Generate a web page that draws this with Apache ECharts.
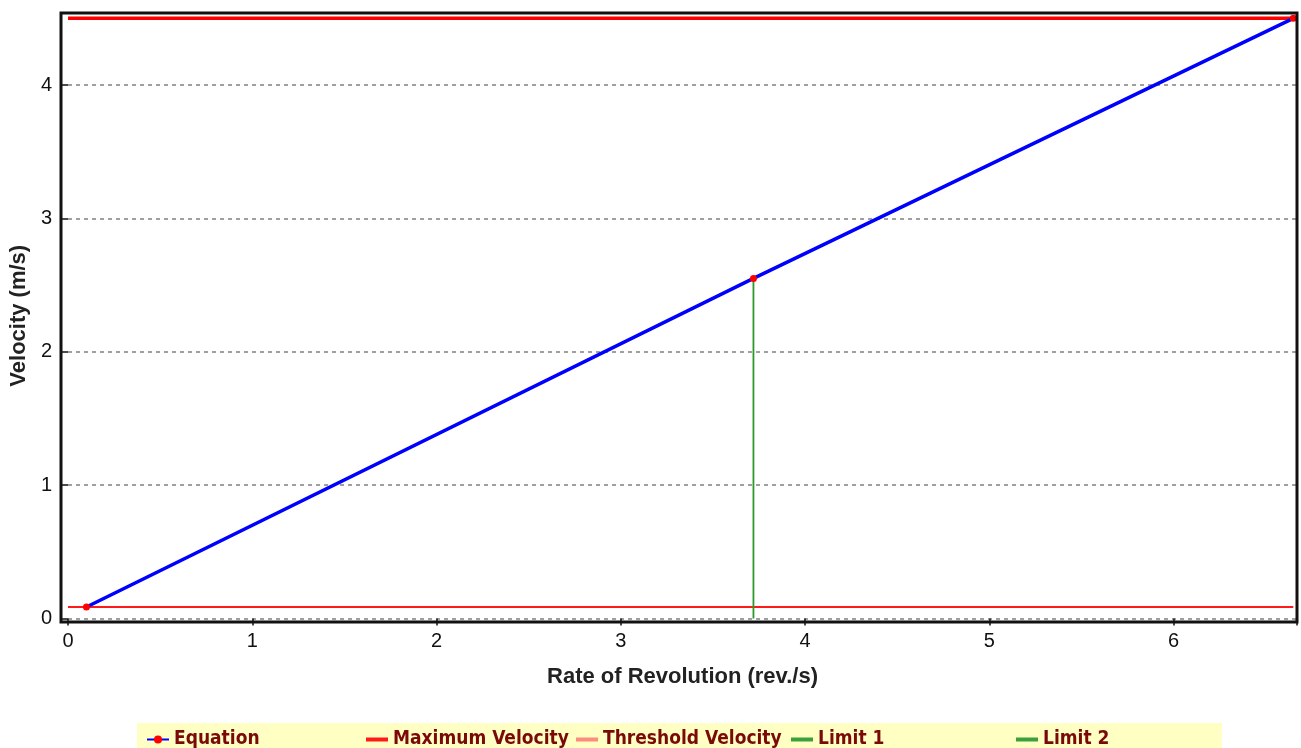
<!DOCTYPE html>
<html>
<head>
<meta charset="utf-8">
<script src="https://cdn.jsdelivr.net/npm/echarts@6/dist/echarts.min.js"></script>
<style>html,body{margin:0;padding:0;background:#fff;}#c{width:1301px;height:748px;}</style>
</head>
<body>
<div id="c"></div>
<script>
// Data
const equation = [[0.10, 0.086], [3.72, 2.55], [6.65, 4.50]];
const maxVelocity = [[0, 4.50], [6.65, 4.50]];
const thresholdVelocity = [[0, 0.086], [6.65, 0.086]];
const limit1 = [[3.72, 0], [3.72, 2.55]];
const limit2 = [[6.67, 0], [6.67, 4.50]];
const seriesNames = ['Equation', 'Maximum Velocity', 'Threshold Velocity', 'Limit 1', 'Limit 2'];
const xTicks = [0, 1, 2, 3, 4, 5, 6];
const yTicks = [0, 1, 2, 3, 4];

const chart = echarts.init(document.getElementById('c'), null, {renderer: 'canvas'});
const legendFont = {fontFamily: 'Liberation Sans Narrow, DejaVu Sans Condensed, Liberation Sans, sans-serif', fontWeight: 'bold', fontSize: 19, color: '#7a0a0a'};
const legendLefts = [141, 361, 571, 786, 1011];
const legendColors = ['#0000ff', '#ff1a1a', '#ff8a80', '#3aa03a', '#3aa03a'];

const legends = seriesNames.map((n, i) => ({
  left: legendLefts[i], top: 725, itemGap: 4,
  itemWidth: 22, itemHeight: i === 0 ? 10 : 4,
  data: [i === 0 ? n : {name: n, icon: 'rect', itemStyle: {color: legendColors[i]}}],
  textStyle: Object.assign({padding: [0, 0, 0, 0]}, legendFont), selectedMode: false
}));

chart.setOption({
  animation: false,
  grid: {left: 67, top: 13, width: 1230, height: 605.5, containLabel: false},
  xAxis: {
    type: 'value', min: 0, max: 6.67, interval: 1, offset: 4,
    axisLine: {show: false},
    axisTick: {show: true, length: 7, lineStyle: {color: '#111', width: 1.5}},
    axisLabel: {fontFamily: 'Liberation Sans, Arial, sans-serif', fontSize: 20, color: '#111', margin: 9,
      formatter: v => xTicks.includes(v) ? String(v) : ''},
    splitLine: {show: false},
    name: 'Rate of Revolution (rev./s)', nameLocation: 'middle', nameGap: 43,
    nameTextStyle: {fontFamily: 'Liberation Sans, Arial, sans-serif', fontWeight: 'bold', fontSize: 22, color: '#222'}
  },
  yAxis: {
    type: 'value', min: 0, max: 4.54, interval: 1, offset: 6,
    axisLine: {show: false},
    axisTick: {show: true, length: 6, lineStyle: {color: '#111', width: 1.5}},
    axisLabel: {fontFamily: 'Liberation Sans, Arial, sans-serif', fontSize: 20, color: '#111', margin: 10,
      formatter: v => yTicks.includes(v) ? String(v) : ''},
    splitLine: {show: true, lineStyle: {color: '#808080', width: 1.5, type: [4, 4]}},
    name: 'Velocity (m/s)', nameLocation: 'middle', nameGap: 26, nameRotate: 90,
    nameTextStyle: {fontFamily: 'Liberation Sans, Arial, sans-serif', fontWeight: 'bold', fontSize: 22, color: '#222'}
  },
  legend: legends,
  graphic: [
    {type: 'rect', z: -10, shape: {x: 137, y: 723, width: 1085, height: 25}, style: {fill: '#ffffc4'}},
    {type: 'rect', z: 100, shape: {x: 61, y: 13, width: 1236, height: 609}, style: {fill: null, stroke: '#111', lineWidth: 3}}
  ],
  series: [
    {name: seriesNames[1], type: 'line', data: maxVelocity, symbol: 'none', lineStyle: {color: '#ff0000', width: 3.5}, itemStyle: {color: '#ff0000'}, z: 3},
    {name: seriesNames[2], type: 'line', data: thresholdVelocity, symbol: 'none', lineStyle: {color: '#ff1a1a', width: 2}, itemStyle: {color: '#ff1a1a'}, z: 3},
    {name: seriesNames[3], type: 'line', data: limit1, symbol: 'none', lineStyle: {color: '#2a9a2a', width: 1.8}, itemStyle: {color: '#2a9a2a'}, z: 3},
    {name: seriesNames[4], type: 'line', data: limit2, symbol: 'none', lineStyle: {color: '#2a9a2a', width: 1.5}, itemStyle: {color: '#2a9a2a'}, z: 3},
    {name: seriesNames[0], type: 'line', data: equation, symbol: 'circle', symbolSize: 7, showSymbol: true,
      lineStyle: {color: '#0000ff', width: 3.5}, itemStyle: {color: '#ff0000'}, z: 5}
  ]
});
</script>
</body>
</html>
